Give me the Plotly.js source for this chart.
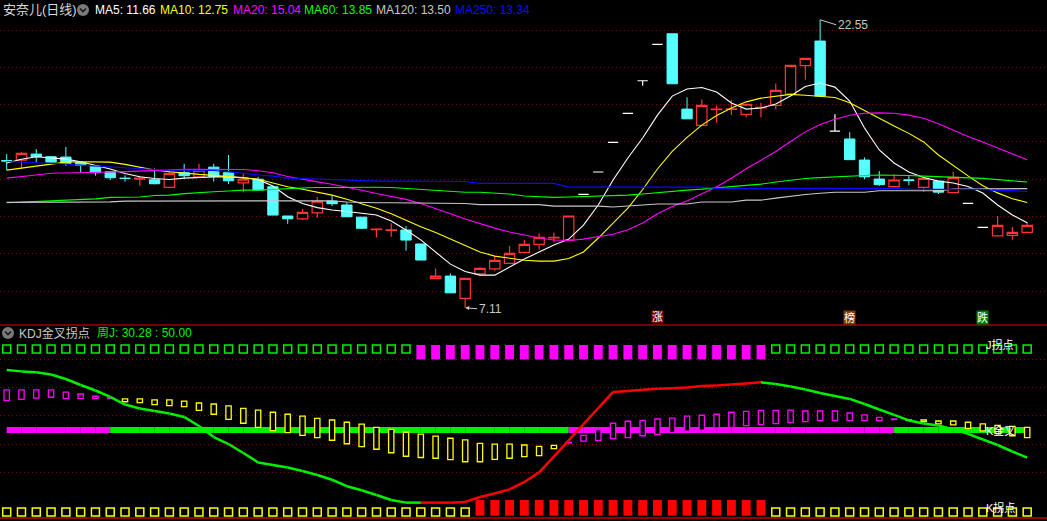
<!DOCTYPE html>
<html><head><meta charset="utf-8">
<script src="https://cdn.plot.ly/plotly-3.0.1.min.js"></script>
<style>html,body{margin:0;padding:0;background:#000;overflow:hidden}#chart{width:1047px;height:521px}</style>
</head><body><div id="chart"></div>
<script>
// ---------------- DATA ----------------
const stockName = '安奈儿(日线)';
const openP = [15.00,15.03,15.35,15.21,15.19,14.90,14.70,14.40,14.06,14.00,
13.97,13.57,14.35,14.13,14.65,14.35,13.81,14.00,13.60,12.03,
11.88,12.20,12.83,12.62,11.97,11.30,11.26,11.28,10.53,8.67,
8.81,7.61,8.93,9.20,9.49,10.08,10.51,10.85,10.74,13.19,
14.39,15.98,17.53,19.28,21.23,21.80,17.76,16.89,17.73,17.75,
17.48,17.83,17.96,18.57,20.09,21.41,16.58,16.16,15.03,14.01,
13.60,13.97,13.57,13.90,13.28,12.71,11.42,10.97,10.99,11.15];
const highP = [15.35,15.46,15.62,15.25,15.73,14.92,14.70,14.40,14.21,14.19,
14.58,14.49,14.83,14.83,14.83,15.30,14.28,14.13,13.62,12.03,
12.40,13.05,13.14,12.78,11.97,11.37,11.64,11.49,10.53,9.22,
8.95,8.69,9.28,9.87,10.42,10.74,11.10,11.15,12.03,13.19,
14.39,15.98,17.53,19.28,21.23,21.80,18.39,18.28,17.94,18.25,
18.02,18.10,19.14,20.11,20.48,22.55,17.48,16.52,15.17,14.44,
14.28,14.17,14.05,13.90,14.40,12.71,11.42,12.03,11.44,11.69];
const lowP = [14.49,14.56,14.92,14.90,14.72,14.33,14.19,13.96,13.87,13.65,
13.73,13.57,14.05,14.13,13.87,13.74,13.31,13.37,12.08,11.61,
11.81,11.94,12.56,11.99,11.33,10.88,10.92,10.17,9.67,8.67,
7.91,7.11,8.85,9.09,9.49,10.03,10.24,10.62,10.74,13.19,
14.39,15.98,17.53,19.01,21.23,19.12,17.24,16.89,17.03,17.44,
17.32,17.32,17.75,18.57,19.34,18.46,16.58,15.05,14.01,13.64,
13.60,13.68,13.33,13.21,13.28,12.71,11.42,10.97,10.76,11.15];
const closeP = [14.98,15.39,15.21,14.92,14.85,14.75,14.35,14.08,14.04,14.06,
13.76,14.32,14.19,14.49,14.16,13.92,14.00,13.42,12.08,11.88,
12.23,12.82,12.69,11.99,11.37,11.33,11.29,10.74,9.67,8.81,
7.91,8.69,9.22,9.65,10.03,10.51,10.88,10.88,12.03,13.19,
14.39,15.98,17.53,19.28,21.23,19.12,17.24,17.96,17.76,17.78,
18.02,17.85,18.77,20.11,20.48,18.46,16.58,15.05,14.13,13.71,
13.96,13.93,14.05,13.31,14.10,12.71,11.42,11.53,11.15,11.53];

const ma5 = [14.87,15.07,15.21,15.16,15.08,14.94,14.76,14.55,14.31,14.13,
14.04,13.99,14.06,14.10,14.13,14.13,14.09,13.98,13.64,13.06,
12.70,12.48,12.35,12.27,12.19,12.08,11.76,11.28,10.75,10.10,
9.45,9.05,8.86,8.86,9.29,9.72,10.10,10.47,10.79,11.54,
12.62,13.96,15.14,16.21,17.44,18.46,18.84,18.92,18.68,18.09,
17.76,17.82,18.03,18.46,18.97,19.16,18.94,18.19,16.75,15.57,
14.87,14.39,14.09,13.90,13.80,13.61,13.26,12.62,12.08,11.67];
const ma10 = [14.49,14.60,14.72,14.82,14.92,14.94,14.94,14.92,14.80,14.65,
14.50,14.40,14.31,14.26,14.21,14.15,14.10,14.00,13.80,13.60,
13.46,13.30,13.15,12.93,12.68,12.45,12.15,11.80,11.45,11.15,
10.80,10.42,10.10,9.88,9.75,9.66,9.61,9.61,9.75,10.10,
10.85,11.65,12.45,13.45,14.55,15.50,16.25,16.90,17.42,17.82,
18.15,18.35,18.45,18.55,18.50,18.43,18.38,18.10,17.68,17.25,
16.85,16.46,16.00,15.30,14.73,14.18,13.65,13.27,12.96,12.75];
const ma20 = [14.06,14.13,14.23,14.32,14.33,14.33,14.36,14.39,14.41,14.45,
14.49,14.52,14.53,14.53,14.53,14.53,14.52,14.46,14.35,14.15,
13.99,13.86,13.73,13.59,13.41,13.24,13.09,12.92,12.70,12.44,
12.15,11.87,11.62,11.38,11.17,11.00,10.85,10.74,10.72,10.79,
10.90,11.05,11.29,11.66,12.15,12.54,12.84,13.20,13.60,14.05,
14.56,15.02,15.49,16.02,16.54,16.94,17.22,17.43,17.54,17.56,
17.54,17.44,17.27,16.97,16.61,16.29,16.00,15.68,15.35,15.04];
const ma60 = [12.74,12.78,12.83,12.86,12.88,12.94,12.95,13.03,13.03,13.05,
13.13,13.15,13.23,13.26,13.33,13.37,13.42,13.42,13.47,13.50,
13.53,13.56,13.57,13.57,13.57,13.57,13.56,13.50,13.45,13.39,
13.34,13.30,13.30,13.26,13.21,13.10,13.05,13.03,13.05,13.07,
13.10,13.13,13.15,13.21,13.29,13.37,13.42,13.47,13.53,13.58,
13.66,13.74,13.85,13.96,14.04,14.09,14.14,14.17,14.20,14.23,
14.23,14.20,14.17,14.14,14.12,14.09,14.05,13.98,13.90,13.85];
const ma120 = [12.76,12.76,12.76,12.79,12.79,12.79,12.79,12.79,12.83,12.83,
12.83,12.83,12.83,12.83,12.83,12.83,12.83,12.83,12.85,12.85,
12.85,12.85,12.85,12.78,12.74,12.74,12.74,12.74,12.74,12.70,
12.70,12.70,12.64,12.64,12.64,12.64,12.64,12.56,12.56,12.56,
12.56,12.51,12.56,12.62,12.67,12.67,12.67,12.78,12.78,12.78,
12.88,12.88,12.99,13.10,13.18,13.25,13.30,13.30,13.30,13.38,
13.38,13.38,13.38,13.38,13.47,13.47,13.47,13.47,13.48,13.50];
const ma250 = [14.95,14.92,14.90,14.87,14.82,14.76,14.71,14.65,14.60,14.57,
14.52,14.49,14.49,14.48,14.47,14.41,14.31,14.23,14.17,14.06,
14.04,14.01,13.98,13.93,13.90,13.90,13.90,13.90,13.90,13.88,
13.88,13.88,13.78,13.78,13.78,13.78,13.78,13.78,13.58,13.58,
13.58,13.58,13.58,13.58,13.58,13.58,13.58,13.58,13.51,13.51,
13.51,13.51,13.51,13.51,13.51,13.51,13.51,13.51,13.51,13.51,
13.51,13.46,13.46,13.46,13.46,13.46,13.46,13.39,13.39,13.34];
const maNames = ['MA5','MA10','MA20','MA60','MA120','MA250'];
const maLast = [11.66,12.75,15.04,13.85,13.50,13.34];

const weeklyJ = [92.7,91.7,91.0,89.5,86.3,82.0,78.1,73.5,68.1,65.3,
63.5,61.7,59.3,52.8,45.0,40.0,33.6,26.9,25.1,23.3,
20.8,18.0,14.6,10.0,7.1,3.7,0.2,-1.7,-1.7,-1.7,
-1.7,-1.2,2.3,4.8,7.7,13.0,19.8,31.1,42.6,54.1,
65.5,77.1,77.8,78.6,79.3,79.7,80.2,81.3,81.7,82.4,
83.1,83.9,82.7,81.0,78.8,76.3,74.2,72.1,68.5,64.6,
60.7,56.8,54.6,53.2,50.4,47.2,43.2,39.3,34.7,30.3];
const kTop = [78.5,78.5,78.5,78.5,77.0,75.6,74.0,72.8,72.1,72.1,
71.4,71.4,70.6,69.2,68.5,67.1,65.4,64.2,62.6,61.2,
59.8,58.3,57.1,55.5,54.1,51.9,50.5,48.4,47.0,45.6,
44.1,42.9,40.5,40.0,40.0,39.3,38.4,39.1,41.2,46.2,
50.2,54.8,56.2,56.9,57.8,58.5,59.8,60.5,61.2,62.6,
63.3,64.0,64.0,64.1,63.5,63.5,63.5,62.1,60.7,59.0,
57.8,57.1,57.1,56.4,56.4,55.5,54.3,53.3,52.6,51.9];
const kBottom = [70.9,71.8,72.6,73.3,72.3,72.3,72.3,72.4,70.1,69.4,
68.0,67.3,66.6,64.0,61.2,57.6,54.8,51.9,49.5,48.1,
46.2,44.5,42.7,40.2,38.1,36.3,33.8,31.3,30.4,29.9,
28.9,27.4,27.4,29.1,29.9,31.0,31.7,36.7,40.8,42.0,
42.4,43.8,44.5,45.9,46.7,48.1,49.1,49.8,51.4,51.9,
53.1,53.8,54.5,55.2,55.9,56.6,56.6,56.6,56.6,56.6,
57.4,56.7,55.9,54.3,53.6,51.2,49.3,47.4,45.9,44.5];
const kdjUp = [1,1,1,1,1,1,1,1,0,0, 0,0,0,0,0,0,0,0,0,0, 0,0,0,0,0,0,0,0,0,0,
0,0,0,0,0,0,0,0,1,1, 1,1,1,1,1,1,1,1,1,1, 1,1,1,1,1,1,1,1,1,1, 1,0,0,0,0,0,0,0,0,0];
const topSignal = [0,0,0,0,0,0,0,0,0,0, 0,0,0,0,0,0,0,0,0,0, 0,0,0,0,0,0,0,0,1,1,
1,1,1,1,1,1,1,1,1,1, 1,1,1,1,1,1,1,1,1,1, 1,1,0,0,0,0,0,0,0,0, 0,0,0,0,0,0,0,0,0,0];
const bottomSignal = [0,0,0,0,0,0,0,0,0,0, 0,0,0,0,0,0,0,0,0,0, 0,0,0,0,0,0,0,0,0,0,
0,0,1,1,1,1,1,1,1,1, 1,1,1,1,1,1,1,1,1,1, 1,1,0,0,0,0,0,0,0,0, 0,0,0,0,0,0,0,0,0,0];
const indicatorName = 'KDJ金叉拐点';
const jLabel = '周J';
const jValues = [30.28, 50.00];
const midLevel = 50;
const eventLabels = ['涨','榜','跌'];
const eventIndex = [44,57,66];
const sideLabels = ['J拐点','K金叉','K拐点'];

// ---------------- STYLE ----------------
const W = 1047, H = 521;
const RED = '#ff3434', CYAN = '#54ffff', MAG = '#ff00ff', GRN = '#00f000', YEL = '#ffff00';
const maColors = ['#ffffff','#ffff00','#ff00ff','#00ff00','#c8c8c8','#0a0aff'];
const FONT = 'Liberation Sans, Arial, Noto Sans CJK SC, sans-serif';
const ROW_TOP = 107.6, ROW_BOT = -8.4;
const SIG_TOP_BASE = 100.3, SIG_TOP_H = 10.2, SIG_BOT_BASE = -11.0, SIG_BOT_H = 11.2;
const px = x => x / W, py = y => 1 - y / H;

const N = closeP.length;
const idx = Array.from({length: N}, (_, i) => i);
const pick = (arr, ids) => ids.map(i => arr[i]);
const flatIdx = idx.filter(i => openP[i] === closeP[i]);
const colIdx = idx.filter(i => openP[i] !== closeP[i]);

const traces = [];
traces.push({
  type: 'candlestick', x: colIdx,
  open: pick(openP, colIdx), high: pick(highP, colIdx), low: pick(lowP, colIdx), close: pick(closeP, colIdx),
  increasing: {line: {color: RED, width: 1.2}, fillcolor: '#000000'},
  decreasing: {line: {color: CYAN, width: 1}, fillcolor: CYAN},
  whiskerwidth: 0, hoverinfo: 'skip', xaxis: 'x', yaxis: 'y'
});
traces.push({
  type: 'candlestick', x: flatIdx,
  open: pick(openP, flatIdx), high: pick(highP, flatIdx), low: pick(lowP, flatIdx), close: pick(closeP, flatIdx),
  increasing: {line: {color: '#ffffff', width: 1.2}, fillcolor: '#ffffff'},
  decreasing: {line: {color: '#ffffff', width: 1.2}, fillcolor: '#ffffff'},
  whiskerwidth: 0, hoverinfo: 'skip', xaxis: 'x', yaxis: 'y'
});
[ma5, ma10, ma20, ma60, ma120, ma250].forEach((arr, k) => {
  traces.push({type: 'scatter', mode: 'lines', x: idx, y: arr, line: {color: maColors[k], width: 1.1},
    hoverinfo: 'skip', xaxis: 'x', yaxis: 'y'});
});

// lower panel: hollow K boxes
traces.push({
  type: 'bar', x: idx, base: kBottom, y: idx.map(i => Math.max(kTop[i] - kBottom[i], 0.3)), width: 0.36,
  marker: {color: '#000000', line: {color: idx.map(i => kdjUp[i] ? MAG : YEL), width: 1.3}},
  hoverinfo: 'skip', xaxis: 'x', yaxis: 'y2'
});
// top signal row
const topOn = idx.filter(i => topSignal[i]), topOff = idx.filter(i => !topSignal[i]);
traces.push({type: 'bar', x: topOn, base: topOn.map(() => SIG_TOP_BASE), y: topOn.map(() => SIG_TOP_H), width: 0.6,
  marker: {color: MAG, line: {width: 0}}, hoverinfo: 'skip', xaxis: 'x', yaxis: 'y2'});
traces.push({type: 'scatter', mode: 'markers', x: topOff, y: topOff.map(() => ROW_TOP),
  marker: {symbol: 'square-open', size: 8, color: GRN, line: {width: 1.5, color: GRN}}, hoverinfo: 'skip', xaxis: 'x', yaxis: 'y2'});
// bottom signal row
const botOn = idx.filter(i => bottomSignal[i]), botOff = idx.filter(i => !bottomSignal[i]);
traces.push({type: 'bar', x: botOn, base: botOn.map(() => SIG_BOT_BASE), y: botOn.map(() => SIG_BOT_H), width: 0.6,
  marker: {color: '#ff0000', line: {width: 0}}, hoverinfo: 'skip', xaxis: 'x', yaxis: 'y2'});
traces.push({type: 'scatter', mode: 'markers', x: botOff, y: botOff.map(() => ROW_BOT),
  marker: {symbol: 'square-open', size: 8, color: YEL, line: {width: 1.5, color: YEL}}, hoverinfo: 'skip', xaxis: 'x', yaxis: 'y2'});
// weekly J line (red while rising signal, green otherwise)
const jSeg = {g: {x: [], y: []}, r: {x: [], y: []}};
for (let i = 0; i < N - 1; i++) {
  const s = (topSignal[i] && topSignal[i + 1]) ? jSeg.r : jSeg.g;
  s.x.push(i, i + 1, null); s.y.push(weeklyJ[i], weeklyJ[i + 1], null);
}
traces.push({type: 'scatter', mode: 'lines', x: jSeg.g.x, y: jSeg.g.y, line: {color: GRN, width: 2.5}, hoverinfo: 'skip', xaxis: 'x', yaxis: 'y2'});
traces.push({type: 'scatter', mode: 'lines', x: jSeg.r.x, y: jSeg.r.y, line: {color: '#ff0000', width: 2.5}, hoverinfo: 'skip', xaxis: 'x', yaxis: 'y2'});

// shapes
const shapes = [];
for (let i = 0; i < N - 1; i++) {
  shapes.push({type: 'line', xref: 'x', yref: 'y2', x0: i, x1: i + 1, y0: midLevel, y1: midLevel,
    line: {color: (kdjUp[i] && kdjUp[i + 1]) ? MAG : GRN, width: 6}, layer: 'between'});
}
shapes.push({type: 'line', xref: 'paper', yref: 'paper', x0: 0, x1: 1, y0: py(325), y1: py(325), line: {color: '#a00000', width: 1.5}});
shapes.push({type: 'line', xref: 'paper', yref: 'paper', x0: 0, x1: 1, y0: py(518), y1: py(518), line: {color: '#c00000', width: 1.5}});
// dropdown icons
[[83, 10], [8, 333]].forEach(([cx, cy]) => {
  shapes.push({type: 'circle', xref: 'paper', yref: 'paper', x0: px(cx - 6), x1: px(cx + 6), y0: py(cy + 6), y1: py(cy - 6),
    fillcolor: '#7a7a7a', line: {width: 0}});
  shapes.push({type: 'path', xref: 'paper', yref: 'paper',
    path: `M ${px(cx - 3)} ${py(cy - 1.5)} L ${px(cx)} ${py(cy + 1.5)} L ${px(cx + 3)} ${py(cy - 1.5)}`,
    line: {color: '#1a1a1a', width: 1.6}});
});

// annotations
const ann = [];
const txt = (x, y, text, color, size, extra) => Object.assign({xref: 'paper', yref: 'paper', x: px(x), y: py(y), text,
  showarrow: false, xanchor: 'left', yanchor: 'middle', font: {family: FONT, size: size || 12, color}}, extra || {});
ann.push(txt(1, 10, stockName, '#d8d8d8', 13));
const maX = [93, 158, 231, 302, 374, 453];
maNames.forEach((n, k) => ann.push(txt(maX[k], 10, `${n}: ${maLast[k].toFixed(2)}`, maColors[k], 12)));
ann.push(txt(17, 333, indicatorName, '#c8c8c8', 12));
ann.push(txt(95, 333, `${jLabel}: ${jValues[0].toFixed(2)} : ${jValues[1].toFixed(2)}`, GRN, 12));

const hi = Math.max(...highP), hiI = highP.indexOf(hi);
const lo = Math.min(...lowP), loI = lowP.indexOf(lo);
ann.push({xref: 'x', yref: 'y', x: hiI, y: hi, text: hi.toFixed(2), showarrow: true, arrowhead: 0, arrowcolor: '#c8c8c8',
  arrowwidth: 1, ax: 16, ay: 5, xanchor: 'left', yanchor: 'middle', font: {family: FONT, size: 12, color: '#c8c8c8'}});
ann.push({xref: 'x', yref: 'y', x: loI, y: lo, text: lo.toFixed(2), showarrow: true, arrowhead: 2, arrowsize: 0.8, arrowcolor: '#c8c8c8',
  arrowwidth: 1, ax: 12, ay: 1, xanchor: 'left', yanchor: 'middle', font: {family: FONT, size: 12, color: '#c8c8c8'}});

const evBg = ['#7a0000', '#7a3c00', '#007a00'];
eventLabels.forEach((t, k) => ann.push({xref: 'x', yref: 'paper', x: eventIndex[k], y: py(317), text: t, showarrow: false,
  xanchor: 'center', yanchor: 'middle', bgcolor: evBg[k], borderpad: 0, font: {family: FONT, size: 11, color: '#ffffff'}}));

ann.push(txt(984, 344, sideLabels[0], '#ffffff', 11));
ann.push(txt(984, 430, sideLabels[1], '#ffffff', 11));
ann.push(txt(984, 507, sideLabels[2], '#ffffff', 11));

const gridAxis = {showticklabels: false, ticks: '', zeroline: false, showline: false, gridcolor: '#8a0000', griddash: '1px,3px', gridwidth: 1, fixedrange: true};
const layout = {
  width: W, height: H, margin: {l: 0, r: 0, t: 0, b: 0, pad: 0},
  paper_bgcolor: '#000', plot_bgcolor: '#000', showlegend: false, barmode: 'overlay', hovermode: false, dragmode: false,
  boxgap: 0.3, boxgroupgap: 0,
  xaxis: {range: [-0.453, 70.34], showgrid: false, zeroline: false, showticklabels: false, ticks: '', showline: false,
    rangeslider: {visible: false}, fixedrange: true},
  yaxis: Object.assign({domain: [0.3781, 1], range: [6.24, 23.61], tickvals: [8, 10, 12, 14, 16, 18, 20, 22]}, gridAxis),
  yaxis2: Object.assign({domain: [0, 0.3743], range: [-14.77, 124.0], tickvals: [20, 40, 60, 80, 100]}, gridAxis),
  shapes, annotations: ann
};
Plotly.newPlot('chart', traces, layout, {staticPlot: true, displayModeBar: false});
</script></body></html>
